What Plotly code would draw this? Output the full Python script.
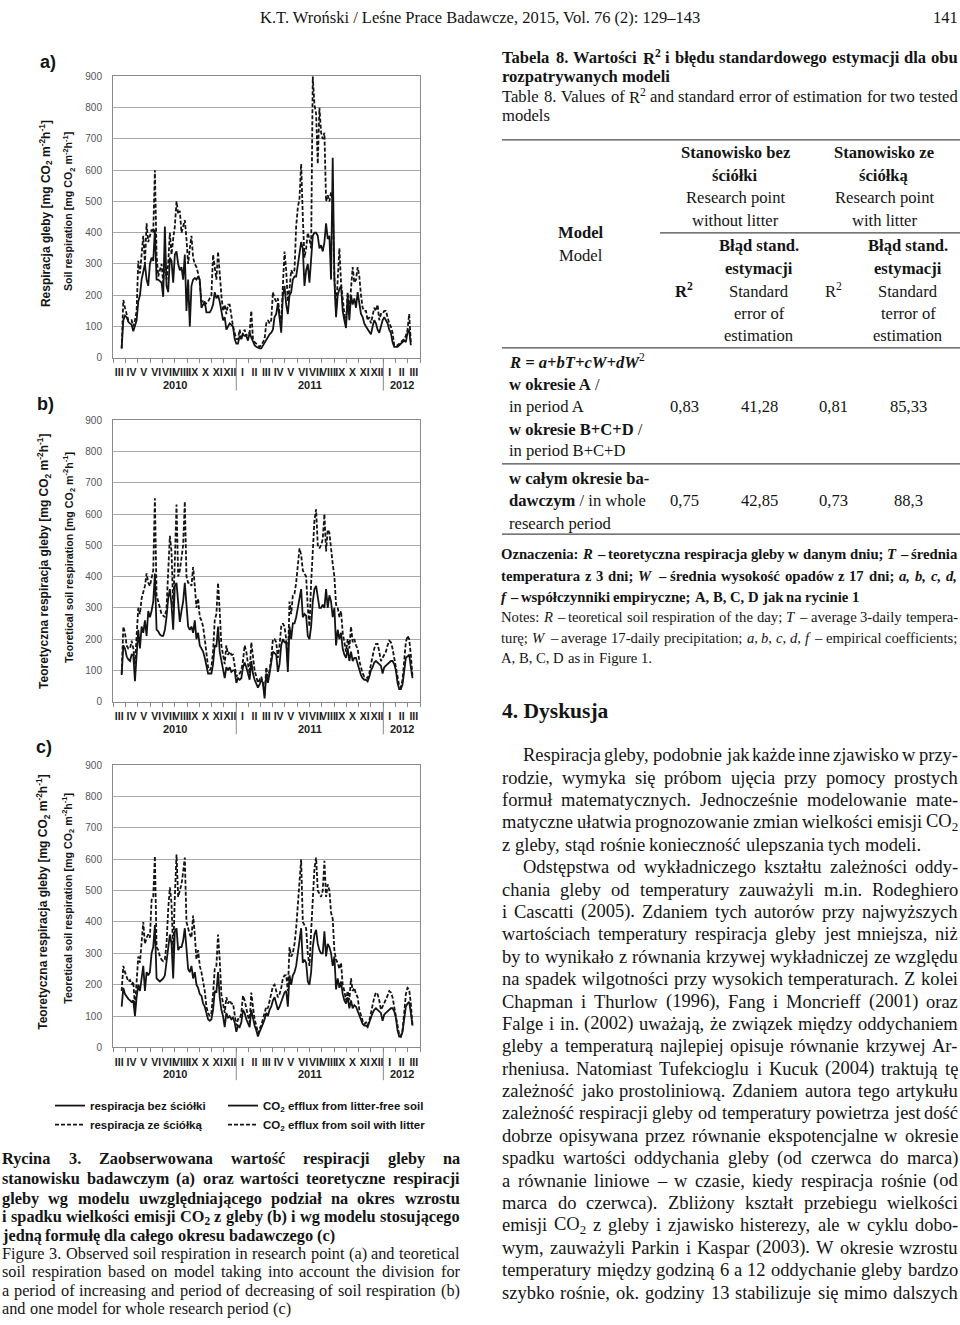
import re
import unicodedata
import pandas as pd
import plotly.graph_objects as go

W, H = 960, 1325
SERIF = "Liberation Serif"
SANS = "Liberation Sans"
INK = "#141414"
GRID = "#a9a9a9"
AXC = "#8a8a8a"

# ------------------------------------------------------------------ data
START = "2010-03-22 12:00"   # first reading
STEP = "99h"                 # spacing of the readings taken from the plots

# a) observed respiration
a_bez = [30, 120, 135, 130, 115, 110, 105, 85, 105, 120,
         180, 200, 250, 280, 300, 250, 230, 300, 320, 310,
         410, 250, 250, 245, 240, 195, 420, 230, 210, 320,
         310, 240, 330, 340, 300, 280, 290, 250, 330, 150,
         250, 100, 230, 250, 255, 250, 260, 250, 160, 170,
         180, 145, 145, 145, 155, 170, 210, 190, 200, 180,
         150, 120, 130, 90, 100, 110, 105, 100, 60, 45,
         45, 70, 60, 75, 70, 70, 55, 80, 65, 50,
         40, 35, 32, 30, 30, 40, 50, 60, 70, 75,
         80, 90, 130, 140, 175, 120, 80, 200, 230, 170,
         140, 200, 210, 250, 260, 260, 300, 330, 370, 350,
         230, 280, 300, 240, 330, 390, 400, 400, 390, 350,
         360, 340, 370, 430, 380, 390, 250, 640, 250, 130,
         200, 220, 230, 150, 120, 95, 200, 120, 200, 170,
         190, 160, 210, 180, 140, 130, 110, 100, 90, 80,
         75, 100, 120, 110, 90, 80, 100, 120, 130, 120,
         110, 90, 80, 50, 35, 35, 35, 40, 45, 50,
         55, 50, 80, 90, 40]
a_ze = [30, 185, 160, 140, 120, 120, 120, 100, 120, 150,
        310, 270, 320, 390, 300, 430, 370, 390, 410, 400,
        600, 330, 260, 280, 300, 240, 320, 250, 300, 400,
        330, 380, 420, 500, 460, 470, 400, 420, 440, 380,
        300, 350, 390, 320, 300, 290, 270, 240, 180, 180,
        170, 175, 180, 190, 200, 330, 280, 250, 340, 250,
        200, 150, 170, 140, 170, 170, 130, 100, 80, 60,
        60, 90, 60, 80, 90, 70, 80, 80, 150, 60,
        50, 45, 40, 35, 40, 50, 60, 110, 120, 110,
        120, 210, 190, 180, 190, 140, 110, 230, 340, 280,
        180, 220, 280, 270, 280, 420, 480, 510, 620, 450,
        320, 350, 400, 380, 350, 900, 810, 780, 620, 800,
        720, 700, 720, 500, 520, 500, 530, 500, 260, 150,
        250, 350, 240, 180, 140, 110, 210, 150, 220, 290,
        240, 250, 290, 260, 200, 160, 150, 150, 120, 130,
        110, 140, 160, 150, 170, 120, 140, 140, 150, 150,
        130, 110, 100, 80, 40, 38, 40, 45, 50, 55,
        60, 70, 90, 140, 50]

# b) model with separate increase / decrease periods
b_bez = [85, 180, 170, 145, 135, 130, 150, 150, 65, 150,
         230, 170, 240, 220, 260, 210, 290, 270, 290, 320,
         410, 230, 225, 215, 210, 210, 230, 270, 330, 360,
         310, 230, 370, 380, 300, 255, 290, 320, 380, 300,
         240, 230, 240, 220, 260, 200, 220, 180, 170, 160,
         140, 110, 90, 90, 90, 120, 180, 175, 240, 160,
         130, 110, 75, 110, 100, 110, 95, 100, 100, 60,
         75, 70, 75, 110, 125, 110, 85, 70, 130, 90,
         70, 55, 45, 55, 70, 60, 10, 90, 60, 90,
         120, 160, 155, 150, 95, 120, 180, 200, 190, 190,
         95, 240, 200, 250, 250, 270, 300, 330, 360, 270,
         280, 275, 210, 200, 240, 320, 360, 370, 340, 300,
         300, 310, 300, 360, 300, 340, 320, 270, 300, 180,
         230, 200, 220, 170, 150, 140, 170, 130, 160, 130,
         140, 140, 120, 100, 85, 75, 70, 70, 65, 80,
         100, 110, 125, 130, 125, 120, 115, 90, 110, 115,
         120, 125, 130, 130, 120, 100, 60, 40, 40, 55,
         90, 140, 145, 150, 110, 75]
b_ze = [90, 240, 220, 180, 170, 170, 195, 170, 120, 200,
        300, 280, 330, 350, 370, 410, 380, 370, 400, 420,
        650, 340, 320, 300, 280, 275, 270, 300, 420, 530,
        480, 300, 450, 630, 400, 420, 460, 500, 640, 400,
        380, 380, 370, 430, 370, 300, 330, 270, 260, 240,
        200, 160, 110, 100, 110, 160, 260, 280, 380, 290,
        180, 150, 120, 180, 150, 160, 150, 150, 110, 80,
        90, 90, 100, 130, 180, 160, 120, 90, 190, 140,
        100, 80, 60, 70, 80, 60, 20, 110, 80, 100,
        140, 200, 200, 190, 140, 180, 240, 250, 240, 200,
        120, 320, 280, 340, 345, 380, 440, 490, 470, 420,
        410, 400, 300, 240, 380, 500, 580, 615, 500, 490,
        500, 520, 600, 480, 550, 540, 480, 440, 400, 310,
        300, 270, 290, 220, 190, 160, 200, 170, 240, 190,
        200, 180, 170, 130, 110, 90, 80, 80, 75, 90,
        120, 150, 170, 185, 185, 160, 130, 140, 150, 160,
        180, 195, 190, 170, 140, 110, 70, 50, 45, 70,
        130, 190, 210, 200, 150, 80]

# c) one model for the whole period
c_bez = [130, 190, 170, 160, 155, 150, 145, 150, 100, 160,
         200, 180, 220, 260, 180, 240, 230, 240, 300, 320,
         390, 220, 215, 210, 215, 220, 230, 280, 310, 360,
         330, 220, 370, 380, 310, 320, 320, 340, 380, 300,
         250, 240, 260, 220, 240, 200, 190, 170, 165, 140,
         130, 110, 90, 85, 90, 120, 180, 175, 240, 160,
         120, 100, 65, 110, 95, 100, 90, 95, 80, 50,
         70, 65, 80, 120, 110, 90, 80, 65, 120, 90,
         70, 55, 35, 50, 60, 75, 90, 110, 100, 120,
         130, 150, 160, 140, 120, 130, 145, 160, 175, 180,
         130, 230, 200, 230, 240, 260, 300, 340, 380, 270,
         280, 270, 210, 200, 240, 320, 360, 375, 330, 310,
         300, 300, 370, 290, 330, 320, 300, 260, 290, 185,
         220, 190, 210, 170, 150, 140, 160, 125, 150, 125,
         135, 130, 115, 100, 85, 75, 70, 70, 65, 80,
         100, 110, 120, 125, 120, 115, 110, 85, 105, 110,
         115, 120, 125, 125, 115, 95, 55, 35, 35, 50,
         90, 130, 140, 145, 110, 70]
c_ze = [180, 260, 240, 225, 210, 215, 200, 210, 130, 210,
        290, 270, 330, 400, 330, 350, 360, 350, 470, 480,
        610, 320, 310, 290, 280, 275, 280, 330, 440, 510,
        460, 300, 480, 615, 480, 500, 520, 560, 605, 400,
        380, 360, 350, 420, 360, 280, 310, 260, 240, 210,
        180, 130, 110, 100, 110, 170, 250, 260, 360, 280,
        170, 140, 110, 160, 140, 150, 140, 140, 100, 70,
        90, 90, 110, 165, 150, 120, 100, 80, 175, 130,
        90, 70, 45, 60, 70, 90, 110, 130, 125, 150,
        170, 195, 200, 175, 160, 170, 190, 220, 230, 230,
        180, 320, 290, 300, 330, 380, 450, 520, 600, 400,
        390, 380, 300, 260, 370, 480, 570, 605, 500, 490,
        480, 500, 595, 480, 520, 500, 430, 410, 310, 280,
        270, 250, 270, 200, 180, 150, 180, 150, 220, 180,
        190, 170, 160, 120, 100, 85, 75, 80, 70, 85,
        110, 140, 160, 175, 170, 150, 120, 130, 140, 150,
        165, 180, 175, 160, 130, 100, 60, 40, 35, 55,
        110, 170, 190, 185, 140, 70]

MONTH_LABELS = ["III", "IV", "V", "VI", "VII", "VIII", "IX", "X", "XI", "XII",
                "I", "II", "III", "IV", "V", "VI", "VII", "VIII", "IX", "X", "XI", "XII",
                "I", "II", "III"]
YEAR_LABELS = ["2010", "2011", "2012"]
YEAR_SPANS = [("2010-03-01", "2011-01-01"), ("2011-01-01", "2012-01-01"), ("2012-01-01", "2012-04-01")]
YEAR_BREAKS = ["2011-01-01", "2012-01-01"]
X_RANGE = ["2010-03-01", "2012-04-01"]
Y_TICKS = [0, 100, 200, 300, 400, 500, 600, 700, 800, 900]

PANEL_TAGS = ["a)", "b)", "c)"]
Y_TITLES = [
    ("Respiracja gleby [mg CO<sub>2</sub> m<sup>-2</sup>h<sup>-1</sup>]",
     "Soil respiration [mg CO<sub>2</sub> m<sup>-2</sup>h<sup>-1</sup>]"),
    ("Teoretyczna respiracja gleby [mg CO<sub>2</sub> m<sup>-2</sup>h<sup>-1</sup>]",
     "Teoretical soil respiration [mg CO<sub>2</sub> m<sup>-2</sup>h<sup>-1</sup>]"),
    ("Teoretyczna respiracja gleby [mg CO<sub>2</sub> m<sup>-2</sup>h<sup>-1</sup>]",
     "Teoretical soil respiration [mg CO<sub>2</sub> m<sup>-2</sup>h<sup>-1</sup>]"),
]
LEG_PL = ["respiracja bez ściółki", "respiracja ze ściółką"]
LEG_EN = ["CO<sub>2</sub> efflux from litter-free soil", "CO<sub>2</sub> efflux from soil with litter"]

# Table 8
TAB_R2_BEZ = ["0,83", "0,75"]
TAB_SE_BEZ = ["41,28", "42,85"]
TAB_R2_ZE = ["0,81", "0,73"]
TAB_SE_ZE = ["85,33", "88,3"]

# ------------------------------------------------------------------ helpers
ANN = []
SHAPES = []


def P(x, y):
    return x / W, 1 - y / H


def ann(x, y, text, size, family=SERIF, anchor="left", angle=0, color=INK, bold=False):
    px_, py_ = P(x, y)
    ANN.append(dict(x=px_, y=py_, xref="paper", yref="paper", text=text, showarrow=False,
                    xanchor=anchor, yanchor="middle", textangle=angle, borderpad=0, borderwidth=0,
                    font=dict(family=family, size=size, color=color,
                              weight="bold" if bold else "normal")))


REG = dict(zip("abcdefghijklmnopqrstuvwxyz",
               [444, 500, 444, 500, 444, 333, 500, 500, 278, 278, 500, 278, 778, 500, 500, 500, 500,
                333, 389, 278, 500, 500, 722, 500, 500, 444]))
REG.update(zip("ABCDEFGHIJKLMNOPQRSTUVWXYZ",
               [722, 667, 667, 722, 611, 556, 722, 722, 333, 389, 722, 611, 889, 722, 722, 556, 722,
                667, 556, 611, 722, 722, 944, 722, 722, 611]))
REG.update({",": 250, ".": 250, ":": 278, ";": 278, "(": 333, ")": 333, "-": 333, "–": 500,
            "/": 278, "+": 564, "=": 564})
BLD = dict(zip("abcdefghijklmnopqrstuvwxyz",
               [500, 556, 444, 556, 444, 333, 500, 556, 278, 333, 556, 278, 833, 556, 500, 556, 556,
                444, 389, 333, 556, 500, 722, 500, 500, 444]))
BLD.update(zip("ABCDEFGHIJKLMNOPQRSTUVWXYZ",
               [722, 667, 722, 722, 667, 611, 778, 778, 389, 500, 778, 667, 944, 722, 778, 611, 778,
                722, 556, 667, 722, 722, 1000, 722, 722, 667]))
BLD.update({",": 250, ".": 250, ":": 333, ";": 333, "(": 333, ")": 333, "-": 333, "–": 500,
            "/": 278, "+": 570, "=": 570})


def _cw(ch, bold):
    if ch in "łŁ":
        base = "l" if ch == "ł" else "L"
    else:
        base = unicodedata.normalize("NFD", ch)[0]
    return (BLD if bold else REG).get(base, 500)


TAG = re.compile(r"<(/?)(b|i|sub|sup)>")


def _chars(html, bold):
    st = {"b": bold, "i": False, "sub": False, "sup": False}
    out, pos = [], 0
    for m in TAG.finditer(html):
        out += [(c, dict(st)) for c in html[pos:m.start()]]
        st[m.group(2)] = m.group(1) == ""
        pos = m.end()
    out += [(c, dict(st)) for c in html[pos:]]
    return out


def _words(html, bold):
    words, cur = [], []
    for c, st in _chars(html, bold):
        if c == " ":
            if cur:
                words.append(cur)
                cur = []
        else:
            cur.append((c, st))
    if cur:
        words.append(cur)
    res = []
    for wd in words:
        runs, units = [], 0.0
        for c, st in wd:
            key = (st["b"], st["i"], st["sub"], st["sup"])
            units += _cw(c, st["b"]) * (0.7 if (st["sub"] or st["sup"]) else 1.0)
            if runs and runs[-1][0] == key:
                runs[-1][1] += c
            else:
                runs.append([key, c])
        out = ""
        for (b, i, sb, sp), txt in runs:
            t = txt
            if sb:
                t = "<sub>" + t + "</sub>"
            if sp:
                t = "<sup>" + t + "</sup>"
            if i:
                t = "<i>" + t + "</i>"
            if b:
                t = "<b>" + t + "</b>"
            out += t
        res.append((out, units))
    return res


def jline(html, x0, x1, y, size, bold=False, justify=True):
    ws = _words(html, bold)
    widths = [u * size / 1000.0 for _, u in ws]
    if justify and len(ws) > 1:
        gap = (x1 - x0 - sum(widths)) / (len(ws) - 1)
    else:
        gap = 0.25 * size
    x = x0
    for (h, _), wdt in zip(ws, widths):
        ann(x, y, h, size)
        x += wdt + gap


def rule(x0, x1, y, width=1.3, color="#4a4a4a"):
    a0, b0 = P(x0, y)
    a1, _ = P(x1, y)
    SHAPES.append(dict(type="line", xref="paper", yref="paper", x0=a0, x1=a1, y0=b0, y1=b0,
                       line=dict(color=color, width=width)))


# ------------------------------------------------------------------ charts
fig = go.Figure()


def dates(n):
    return pd.date_range(START, periods=n, freq=STEP)


month_starts = pd.date_range(X_RANGE[0], X_RANGE[1], freq="MS")
mid_months = [month_starts[i] + (month_starts[i + 1] - month_starts[i]) / 2 for i in range(len(MONTH_LABELS))]

SERIES = [(a_bez, a_ze), (b_bez, b_ze), (c_bez, c_ze)]
PANELS = [(71, 355), (418, 702), (766, 1051)]
TAG_POS = [(48, 57), (45, 402), (44, 748)]
TITLE_POS = [(46, 210, 69, 208), (44, 561, 69, 557), (43, 905, 68, 901)]

layout_axes = {}
for k, ((bez, ze), (top, bot)) in enumerate(zip(SERIES, PANELS)):
    sx = "" if k == 0 else str(k + 1)
    xa, ya = "x" + sx, "y" + sx
    if k == 0:
        leg, names, show = "legend", LEG_PL, True
    elif k == 1:
        leg, names, show = "legend2", LEG_EN, True
    else:
        leg, names, show = "legend", LEG_PL, False
    fig.add_trace(go.Scatter(x=dates(len(ze)), y=ze, mode="lines", name=names[1], legend=leg,
                             legendrank=2, showlegend=show, xaxis=xa, yaxis=ya,
                             line=dict(color=INK, width=1.8, dash="4px,2px")))
    fig.add_trace(go.Scatter(x=dates(len(bez)), y=bez, mode="lines", name=names[0], legend=leg,
                             legendrank=1, showlegend=show, xaxis=xa, yaxis=ya,
                             line=dict(color=INK, width=1.8)))
    layout_axes["xaxis" + sx] = dict(
        domain=[113 / W, 420 / W], anchor=ya, type="date", range=X_RANGE,
        tickmode="array", tickvals=mid_months, ticktext=MONTH_LABELS, ticks="", tickangle=0,
        tickfont=dict(family=SANS, size=10.5, color="#222", weight="bold"), ticklabelstandoff=5,
        showgrid=False, zeroline=False, showline=True, linecolor=AXC, linewidth=1, mirror=True,
        minor=dict(tickmode="array", tickvals=list(month_starts), ticks="outside", ticklen=4,
                   tickcolor=AXC, tickwidth=1, showgrid=False))
    layout_axes["yaxis" + sx] = dict(
        domain=[1 - bot / H, 1 - top / H], anchor=xa, range=[0, 900], tickmode="array",
        tickvals=Y_TICKS, ticks="", showgrid=True, gridcolor=GRID, gridwidth=1, zeroline=False,
        showline=True, linecolor=AXC, linewidth=1, mirror=True, ticklabelstandoff=8,
        tickfont=dict(family=SANS, size=10, color="#555"))
    for lab, (y0, y1) in zip(YEAR_LABELS, YEAR_SPANS):
        t0, t1 = pd.Timestamp(y0), pd.Timestamp(y1)
        ANN.append(dict(x=t0 + (t1 - t0) / 2, y=0, xref=xa, yref=ya + " domain", yshift=-27,
                        text=lab, showarrow=False, xanchor="center", yanchor="middle",
                        font=dict(family=SANS, size=11, color="#222", weight="bold")))
    for brk in YEAR_BREAKS:
        SHAPES.append(dict(type="line", xref=xa, yref=ya + " domain", x0=brk, x1=brk, y0=0,
                           y1=-33 / (bot - top), line=dict(color=AXC, width=1)))
    tx, ty = TAG_POS[k]
    ann(tx, ty, PANEL_TAGS[k], 18, SANS, "center", bold=True)
    x1_, y1_, x2_, y2_ = TITLE_POS[k]
    t1, t2 = Y_TITLES[k]
    ann(x1_, y1_, t1, 12, SANS, "center", angle=-90, bold=True)
    ann(x2_, y2_, t2, 10.7, SANS, "center", angle=-90, bold=True)

# ------------------------------------------------------------------ page text
ann(480, 12, "K.T. Wroński / Leśne Prace Badawcze, 2015, Vol. 76 (2): 129–143", 16.5, SERIF, "center")
ann(958, 12, "141", 16.5, SERIF, "right")

# figure caption
CAP = [("Rycina 3. Zaobserwowana wartość respiracji gleby na", True, True, 1163),
       ("stanowisku badawczym (a) oraz wartości teoretyczne respiracji", True, True, 1183),
       ("gleby wg modelu uwzględniającego podział na okres wzrostu", True, True, 1203),
       ("i spadku wielkości emisji CO<sub>2</sub> z gleby (b) i wg modelu stosującego", True, True, 1222),
       ("jedną formułę dla całego okresu badawczego (c)", True, False, 1241),
       ("Figure 3. Observed soil respiration in research point (a) and teoretical", False, True, 1259),
       ("soil respiration based on model taking into account the division for", False, True, 1277),
       ("a period of increasing and period of decreasing of soil respiration (b)", False, True, 1296),
       ("and one model for whole research period (c)", False, False, 1314)]
for txt, b, j, y in CAP:
    jline(txt, 2, 460, y, 16.3, bold=b, justify=j)

# table title
TT = [("Tabela 8. Wartości R<sup>2</sup> i błędu standardowego estymacji dla obu", True, True, 52),
      ("rozpatrywanych modeli", True, False, 71),
      ("Table 8. Values of R<sup>2</sup> and standard error of estimation for two tested", False, True, 91),
      ("models", False, False, 111)]
for txt, b, j, y in TT:
    jline(txt, 502, 958, y, 16.6, bold=b, justify=j)

# table
rule(502, 960, 135)
rule(660, 960, 229)
rule(502, 960, 345)
rule(502, 960, 462)
rule(502, 960, 533)
TS = 16.6
for cx, head in ((735, ("Stanowisko bez", "ściółki", "Research point", "without litter")),
                 (884, ("Stanowisko ze", "ściółką", "Research point", "with litter"))):
    for i, (t, y) in enumerate(zip(head, (148, 171, 193, 216))):
        ann(cx, y, t, TS, SERIF, "center", bold=i < 2)
ann(581, 229, "Model", TS, SERIF, "center", bold=True)
ann(581, 252, "Model", TS, SERIF, "center")
ann(684, 287, "R<sup>2</sup>", TS, SERIF, "center", bold=True)
ann(833, 287, "R<sup>2</sup>", TS, SERIF, "center")
for cx, third in ((759, "error of"), (908, "terror of")):
    for i, (t, y) in enumerate(zip(("Błąd stand.", "estymacji", "Standard", third, "estimation"),
                                   (242, 265, 288, 310, 333))):
        ann(cx, y, t, TS, SERIF, "center", bold=i < 2)
ROW_TXT = [("<b><i>R = a+bT+cW+dW</i></b><sup>2</sup>", 359), ("<b>w okresie A</b> /", 382),
           ("in period A", 404), ("<b>w okresie B+C+D</b> /", 427), ("in period B+C+D", 449),
           ("<b>w całym okresie ba-</b>", 477), ("<b>dawczym</b> / in whole", 499),
           ("research period", 522)]
for t, y in ROW_TXT:
    ann(509, y, t, TS, SERIF, "left")
for r, y in enumerate((404, 499)):
    for cx, col in ((684, TAB_R2_BEZ), (759, TAB_SE_BEZ), (833, TAB_R2_ZE), (908, TAB_SE_ZE)):
        ann(cx, y, col[r], TS, SERIF, "center")

# notes
NOTES = [("Oznaczenia: <i>R</i> – teoretyczna respiracja gleby w danym dniu; <i>T</i> – średnia", True, True, 553),
         ("temperatura z 3 dni; <i>W</i> – średnia wysokość opadów z 17 dni; <i>a, b, c, d,</i>", True, True, 575),
         ("<i>f</i> – współczynniki empiryczne; A, B, C, D jak na rycinie 1", True, False, 596),
         ("Notes: <i>R</i> – teoretical soil respiration of the day; <i>T</i> – average 3-daily tempera-", False, True, 617),
         ("turę; <i>W</i> – average 17-daily precipitation; <i>a, b, c, d, f</i> – empirical coefficients;", False, True, 638),
         ("A, B, C, D as in Figure 1.", False, False, 658)]
for txt, b, j, y in NOTES:
    jline(txt, 501, 958, y, 14.7, bold=b, justify=j)

ann(502, 711, "<b>4. Dyskusja</b>", 21.5, SERIF, "left")

BODY = ["Respiracja gleby, podobnie jak każde inne zjawisko w przy-",
        "rodzie, wymyka się próbom ujęcia przy pomocy prostych",
        "formuł matematycznych. Jednocześnie modelowanie mate-",
        "matyczne ułatwia prognozowanie zmian wielkości emisji CO<sub>2</sub>",
        "z gleby, stąd rośnie konieczność ulepszania tych modeli.",
        "Odstępstwa od wykładniczego kształtu zależności oddy-",
        "chania gleby od temperatury zauważyli m.in. Rodeghiero",
        "i Cascatti (2005). Zdaniem tych autorów przy najwyższych",
        "wartościach temperatury respiracja gleby jest mniejsza, niż",
        "by to wynikało z równania krzywej wykładniczej ze względu",
        "na spadek wilgotności przy wysokich temperaturach. Z kolei",
        "Chapman i Thurlow (1996), Fang i Moncrieff (2001) oraz",
        "Falge i in. (2002) uważają, że związek między oddychaniem",
        "gleby a temperaturą najlepiej opisuje równanie krzywej Ar-",
        "rheniusa. Natomiast Tufekcioglu i Kucuk (2004) traktują tę",
        "zależność jako prostoliniową. Zdaniem autora tego artykułu",
        "zależność respiracji gleby od temperatury powietrza jest dość",
        "dobrze opisywana przez równanie ekspotencjalne w okresie",
        "spadku wartości oddychania gleby (od czerwca do marca)",
        "a równanie liniowe – w czasie, kiedy respiracja rośnie (od",
        "marca do czerwca). Zbliżony kształt przebiegu wielkości",
        "emisji CO<sub>2</sub> z gleby i zjawisko histerezy, ale w cyklu dobo-",
        "wym, zauważyli Parkin i Kaspar (2003). W okresie wzrostu",
        "temperatury między godziną 6 a 12 oddychanie gleby bardzo",
        "szybko rośnie, ok. godziny 13 stabilizuje się mimo dalszych"]
for i, txt in enumerate(BODY):
    x0 = 523 if i in (0, 5) else 502
    jline(txt, x0, 958, 756 + i * 22.6, 18.5, justify=(i != 4))

# ------------------------------------------------------------------ layout
LEG = dict(orientation="v", xanchor="left", yanchor="top", bgcolor="rgba(0,0,0,0)",
           font=dict(family=SANS, size=11.5, color=INK, weight="bold"), itemwidth=30,
           traceorder="normal", tracegroupgap=0)
fig.update_layout(
    width=W, height=H, autosize=False, margin=dict(l=0, r=0, t=0, b=0, pad=0),
    paper_bgcolor="white", plot_bgcolor="white", showlegend=True,
    legend=dict(LEG, x=50 / W, y=1 - 1095 / H),
    legend2=dict(LEG, x=223 / W, y=1 - 1095 / H),
    annotations=ANN, shapes=SHAPES, **layout_axes)

fig.write_html("out.html")
